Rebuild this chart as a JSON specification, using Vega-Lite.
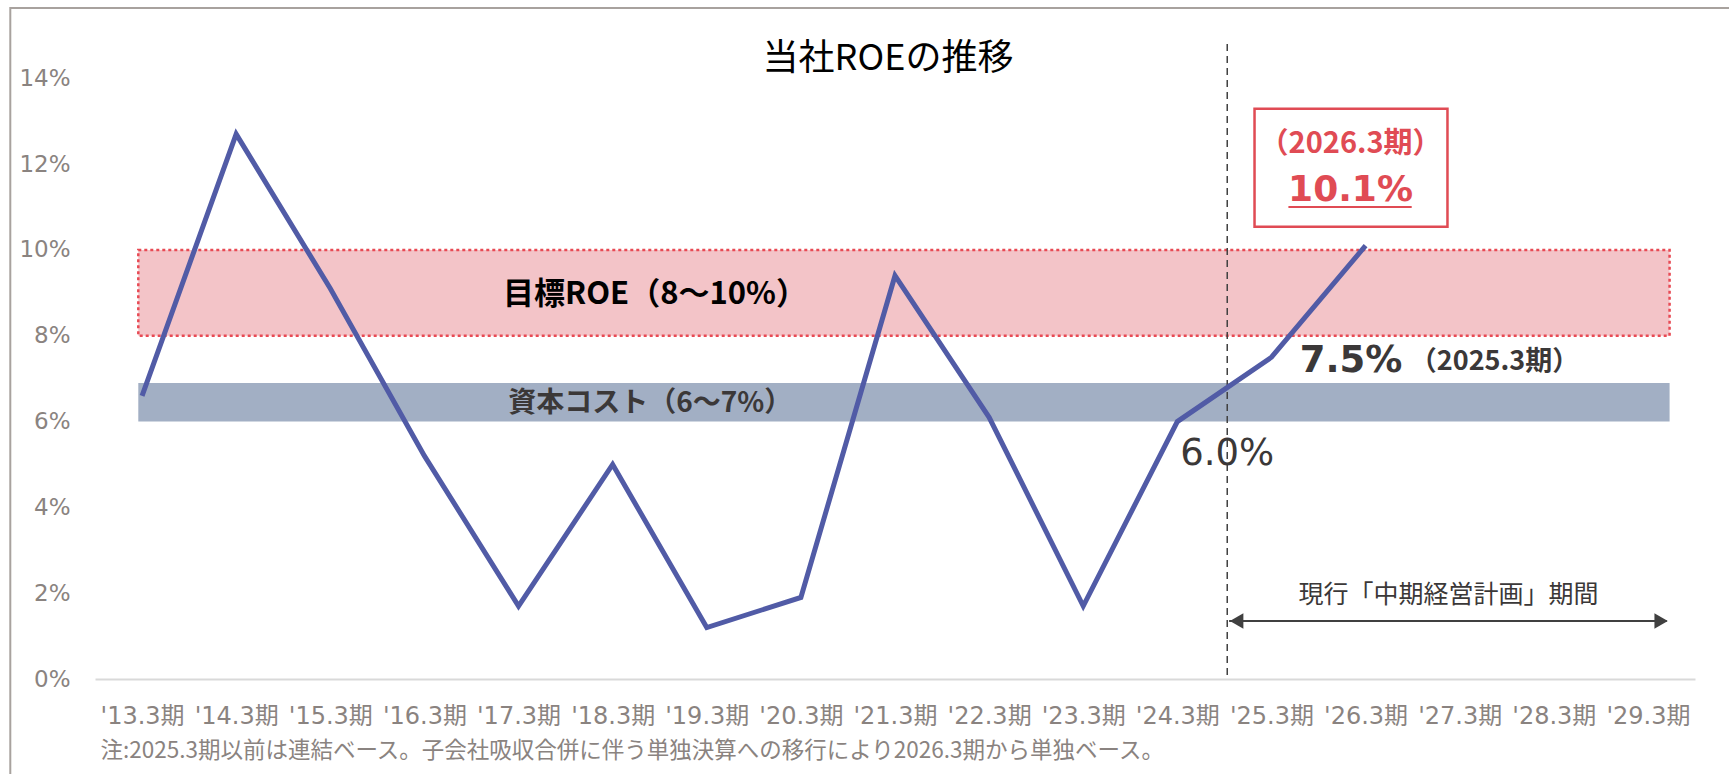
{
  "$schema": "https://vega.github.io/schema/vega-lite/v6.json",
  "autosize": "none",
  "width": 1600,
  "height": 635,
  "padding": {"left": 95, "top": 44, "right": 34, "bottom": 95},
  "background": "white",
  "config": {"view": {"stroke": null}},
  "title": {
    "text": "当社ROEの推移",
    "font": "Noto Sans CJK JP",
    "fontSize": 36,
    "fontWeight": "normal",
    "color": "#000000",
    "anchor": "middle",
    "frame": "group",
    "offset": -71,
    "dx": -7
  },
  "datasets": {
    "roe": [
      {"year": 2013, "period": "'13.3期", "roe": 6.6},
      {"year": 2014, "period": "'14.3期", "roe": 12.7},
      {"year": 2015, "period": "'15.3期", "roe": 9.1},
      {"year": 2016, "period": "'16.3期", "roe": 5.2},
      {"year": 2017, "period": "'17.3期", "roe": 1.7},
      {"year": 2018, "period": "'18.3期", "roe": 5.0},
      {"year": 2019, "period": "'19.3期", "roe": 1.2},
      {"year": 2020, "period": "'20.3期", "roe": 1.9},
      {"year": 2021, "period": "'21.3期", "roe": 9.4},
      {"year": 2022, "period": "'22.3期", "roe": 6.1},
      {"year": 2023, "period": "'23.3期", "roe": 1.7},
      {"year": 2024, "period": "'24.3期", "roe": 6.0},
      {"year": 2025, "period": "'25.3期", "roe": 7.5},
      {"year": 2026, "period": "'26.3期", "roe": 10.1}
    ],
    "bands": [
      {"name": "目標ROE（8～10%）", "from": 2012.96, "to": 2029.23, "low": 8, "high": 10},
      {"name": "資本コスト（6～7%）", "from": 2012.96, "to": 2029.23, "low": 6, "high": 6.9}
    ]
  },
  "layer": [
    {
      "data": {"values": [{"label": "frame"}]},
      "mark": {"type": "rect", "fill": "white", "fillOpacity": 0, "stroke": "#a8a29e", "strokeWidth": 2, "clip": false},
      "encoding": {
        "x": {"datum": 2011.6, "type": "quantitative", "scale": {"domain": [2012.5, 2029.5], "nice": false, "zero": false}},
        "x2": {"datum": 2031.5},
        "y": {"datum": -3, "type": "quantitative", "scale": {"domain": [0, 14.8], "nice": false}},
        "y2": {"datum": 15.64}
      }
    },
    {
      "data": {"name": "bands"},
      "mark": {"type": "rect", "strokeDash": [3, 3], "strokeWidth": 2.5},
      "encoding": {
        "x": {"field": "from", "type": "quantitative", "scale": {"domain": [2012.5, 2029.5], "nice": false, "zero": false}},
        "x2": {"field": "to"},
        "y": {"field": "low", "type": "quantitative", "scale": {"domain": [0, 14.8], "nice": false}},
        "y2": {"field": "high"},
        "fill": {"field": "name", "type": "nominal", "scale": {"domain": ["目標ROE（8～10%）", "資本コスト（6～7%）"], "range": ["#f3c4c8", "#a2afc4"]}, "legend": null},
        "stroke": {"field": "name", "type": "nominal", "scale": {"domain": ["目標ROE（8～10%）", "資本コスト（6～7%）"], "range": ["#e84a54", "rgba(0,0,0,0)"]}, "legend": null}
      }
    },
    {
      "data": {"name": "bands"},
      "transform": [{"filter": "datum.low == 8"}],
      "mark": {"type": "text", "font": "Noto Sans CJK JP", "fontWeight": "bold", "fontSize": 31, "color": "#000000", "align": "center", "baseline": "middle"},
      "encoding": {
        "x": {"datum": 2018.45},
        "y": {"datum": 8.95},
        "text": {"field": "name"}
      }
    },
    {
      "data": {"name": "bands"},
      "transform": [{"filter": "datum.low == 6"}],
      "mark": {"type": "text", "font": "Noto Sans CJK JP", "fontWeight": "bold", "fontSize": 28, "color": "#3b3838", "align": "center", "baseline": "middle"},
      "encoding": {
        "x": {"datum": 2018.4},
        "y": {"datum": 6.41},
        "text": {"field": "name"}
      }
    },
    {
      "data": {"values": [{"label": "boundary"}]},
      "mark": {"type": "rule", "color": "#404040", "strokeWidth": 1.5, "strokeDash": [7, 5]},
      "encoding": {"x": {"datum": 2024.53}}
    },
    {
      "data": {"name": "roe"},
      "mark": {"type": "line", "color": "#515ba6", "strokeWidth": 5, "strokeJoin": "miter"},
      "encoding": {
        "x": {
          "field": "year",
          "type": "quantitative",
          "scale": {"domain": [2012.5, 2029.5], "nice": false, "zero": false},
          "axis": {
            "values": [2013, 2014, 2015, 2016, 2017, 2018, 2019, 2020, 2021, 2022, 2023, 2024, 2025, 2026, 2027, 2028, 2029],
            "labelExpr": "\"'\" + substring(toString(datum.value), 2, 4) + '.3期'",
            "labelFont": "DejaVu Sans, Noto Sans CJK JP",
            "labelFontSize": 24,
            "labelColor": "#8a8380",
            "labelPadding": 25,
            "labelOverlap": false,
            "labelFlush": false,
            "ticks": false,
            "tickSize": 0,
            "grid": false,
            "domainColor": "#d9d9d9",
            "domainWidth": 2,
            "title": "注:2025.3期以前は連結ベース。子会社吸収合併に伴う単独決算への移行により2026.3期から単独ベース。",
            "titleFont": "Noto Sans CJK JP",
            "titleFontSize": 22.5,
            "titleFontWeight": "normal",
            "titleColor": "#8a8380",
            "titleAnchor": "start",
            "titleAlign": "left",
            "titleBaseline": "middle",
            "titleX": 5,
            "titleY": 71
          }
        },
        "y": {
          "field": "roe",
          "type": "quantitative",
          "scale": {"domain": [0, 14.8], "nice": false},
          "axis": {
            "values": [0, 2, 4, 6, 8, 10, 12, 14],
            "labelExpr": "datum.value + '%'",
            "labelFont": "DejaVu Sans",
            "labelFontSize": 23,
            "labelColor": "#8a8380",
            "labelPadding": 25,
            "ticks": false,
            "tickSize": 0,
            "domain": false,
            "grid": false,
            "title": null
          }
        }
      }
    },
    {
      "data": {"values": [{"label": "arrow"}]},
      "mark": {"type": "rule", "color": "#404040", "strokeWidth": 2},
      "encoding": {"x": {"datum": 2024.55}, "x2": {"datum": 2029.2}, "y": {"datum": 1.35}}
    },
    {
      "data": {"values": [{"label": "arrow"}]},
      "mark": {"type": "point", "shape": "triangle-left", "filled": true, "size": 240, "color": "#404040", "opacity": 1},
      "encoding": {"x": {"datum": 2024.63}, "y": {"datum": 1.35}}
    },
    {
      "data": {"values": [{"label": "arrow"}]},
      "mark": {"type": "point", "shape": "triangle-right", "filled": true, "size": 240, "color": "#404040", "opacity": 1},
      "encoding": {"x": {"datum": 2029.14}, "y": {"datum": 1.35}}
    },
    {
      "data": {"values": [{"t": "現行「中期経営計画」期間"}]},
      "mark": {"type": "text", "font": "Noto Sans CJK JP", "fontSize": 25, "color": "#3b3838", "align": "center", "baseline": "middle"},
      "encoding": {"x": {"datum": 2026.88}, "y": {"datum": 1.96}, "text": {"field": "t"}}
    },
    {
      "data": {"values": [{"t": "6.0%"}]},
      "mark": {"type": "text", "font": "DejaVu Sans", "fontSize": 37, "color": "#3b3838", "align": "center", "baseline": "middle"},
      "encoding": {"x": {"datum": 2024.53}, "y": {"datum": 5.24}, "text": {"field": "t"}}
    },
    {
      "data": {"values": [{"t": "7.5%"}]},
      "mark": {"type": "text", "font": "DejaVu Sans", "fontWeight": "bold", "fontSize": 37, "color": "#3b3838", "align": "left", "baseline": "middle"},
      "encoding": {"x": {"datum": 2025.3}, "y": {"datum": 7.41}, "text": {"field": "t"}}
    },
    {
      "data": {"values": [{"t": "（2025.3期）"}]},
      "mark": {"type": "text", "font": "Noto Sans CJK JP", "fontWeight": "bold", "fontSize": 27, "color": "#3b3838", "align": "left", "baseline": "middle"},
      "encoding": {"x": {"datum": 2026.47}, "y": {"datum": 7.39}, "text": {"field": "t"}}
    },
    {
      "data": {"values": [{"label": "box"}]},
      "mark": {"type": "rect", "fill": "white", "fillOpacity": 0, "stroke": "#e04b54", "strokeWidth": 2.5},
      "encoding": {"x": {"datum": 2024.82}, "x2": {"datum": 2026.87}, "y": {"datum": 10.54}, "y2": {"datum": 13.29}}
    },
    {
      "data": {"values": [{"t": "（2026.3期）"}]},
      "mark": {"type": "text", "font": "Noto Sans CJK JP", "fontWeight": "bold", "fontSize": 29, "color": "#e04b54", "align": "center", "baseline": "middle"},
      "encoding": {"x": {"datum": 2025.84}, "y": {"datum": 12.47}, "text": {"field": "t"}}
    },
    {
      "data": {"values": [{"t": "10.1%"}]},
      "mark": {"type": "text", "font": "DejaVu Sans", "fontWeight": "bold", "fontSize": 36, "color": "#e04b54", "align": "center", "baseline": "middle"},
      "encoding": {"x": {"datum": 2025.84}, "y": {"datum": 11.4}, "text": {"field": "t"}}
    },
    {
      "data": {"values": [{"label": "underline"}]},
      "mark": {"type": "rule", "color": "#e04b54", "strokeWidth": 2},
      "encoding": {"x": {"datum": 2025.18}, "x2": {"datum": 2026.49}, "y": {"datum": 11.0}}
    }
  ]
}
